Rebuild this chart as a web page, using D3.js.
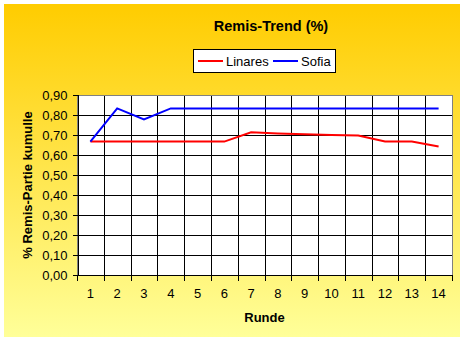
<!DOCTYPE html>
<html><head><meta charset="utf-8">
<script src="https://cdn.jsdelivr.net/npm/d3@7/dist/d3.min.js"></script>
<style>html,body{margin:0;padding:0;background:#fff;}svg{display:block;}</style>
</head><body>
<script>
const rounds = [1,2,3,4,5,6,7,8,9,10,11,12,13,14];
const linares = [0.667,0.667,0.667,0.667,0.667,0.667,0.714,0.708,0.704,0.700,0.697,0.667,0.667,0.643];
const sofia = [0.667,0.833,0.778,0.833,0.833,0.833,0.833,0.833,0.833,0.833,0.833,0.833,0.833,0.833];
const yTicks = [0,0.1,0.2,0.3,0.4,0.5,0.6,0.7,0.8,0.9];
const seriesNames = ["Linares","Sofia"];
const seriesColors = ["#ff0000","#0000ff"];

const W = 467, H = 345;
const svg = d3.select("body").append("svg").attr("width",W).attr("height",H);
const defs = svg.append("defs");
const grad = defs.append("linearGradient").attr("id","bg").attr("x1",0).attr("y1",0).attr("x2",0).attr("y2",1);
grad.append("stop").attr("offset","0%").attr("stop-color","#ffcc00");
grad.append("stop").attr("offset","100%").attr("stop-color","#ffff99");
svg.append("rect").attr("x",4).attr("y",4).attr("width",456).attr("height",333).attr("fill","url(#bg)");

const L=77, R=452, T=95, B=275;
const x = d3.scaleBand().domain(rounds).range([L,R]);
const y = d3.scaleLinear().domain([0,0.9]).range([B,T]);
const font = "'Liberation Sans', Arial, sans-serif";

svg.append("rect").attr("x",L).attr("y",T).attr("width",R-L).attr("height",B-T).attr("fill","#fff");

// gridlines
const g = svg.append("g").attr("shape-rendering","crispEdges");
g.selectAll(".hg").data(yTicks.slice(1)).enter().append("line")
  .attr("x1",L).attr("x2",R).attr("y1",d=>Math.round(y(d))+0.5).attr("y2",d=>Math.round(y(d))+0.5)
  .attr("stroke","#000");
g.selectAll(".vg").data(rounds.slice(1)).enter().append("line")
  .attr("x1",d=>Math.round(x(d))+0.5).attr("x2",d=>Math.round(x(d))+0.5).attr("y1",T).attr("y2",B)
  .attr("stroke","#000");
// plot border gray
svg.append("rect").attr("x",L+0.5).attr("y",T+0.5).attr("width",R-L).attr("height",B-T)
  .attr("fill","none").attr("stroke","#808080").attr("shape-rendering","crispEdges");

// axes
const yAxis = d3.axisLeft(y).tickValues(yTicks).tickSize(5).tickPadding(5)
  .tickFormat(d=>d3.format(".2f")(d).replace(".",","));
const ya = svg.append("g").attr("transform",`translate(${L+0.5},0)`).call(yAxis);
const xAxis = d3.axisBottom(x).tickSize(0).tickPadding(13);
const xa = svg.append("g").attr("transform",`translate(0,${B+0.5})`).call(xAxis);
// x ticks at category boundaries
const bounds = rounds.map(r=>x(r)).concat([R]);
xa.selectAll(".bt").data(bounds).enter().append("line")
  .attr("x1",d=>Math.round(d)+0.5).attr("x2",d=>Math.round(d)+0.5).attr("y1",0).attr("y2",5)
  .attr("stroke","#000").attr("shape-rendering","crispEdges");
[ya,xa].forEach(a=>{
  a.selectAll("path.domain").attr("stroke","#000").attr("shape-rendering","crispEdges");
  a.selectAll(".tick line").attr("stroke","#000").attr("shape-rendering","crispEdges");
  a.selectAll("text").attr("font-family",font).attr("font-size","13px").attr("fill","#000");
});
xa.select("path.domain").remove();
xa.append("line").attr("x1",L).attr("x2",R+0.5).attr("y1",0).attr("y2",0).attr("stroke","#000").attr("shape-rendering","crispEdges");

// lines
const line = d3.line().x((d,i)=>x(rounds[i])+x.bandwidth()/2).y(d=>y(d));
[linares,sofia].forEach((s,i)=>{
  svg.append("path").datum(s).attr("d",line).attr("fill","none")
    .attr("stroke",seriesColors[i]).attr("stroke-width",2);
});

// title
svg.append("text").attr("x",271).attr("y",31).attr("text-anchor","middle")
  .attr("font-family",font).attr("font-weight","bold").attr("font-size","14.5px").text("Remis-Trend (%)");
svg.append("text").attr("x",264.5).attr("y",322).attr("text-anchor","middle")
  .attr("font-family",font).attr("font-weight","bold").attr("font-size","13px").text("Runde");
svg.append("text").attr("transform","translate(32,185) rotate(-90)").attr("text-anchor","middle")
  .attr("font-family",font).attr("font-weight","bold").attr("font-size","13px").text("% Remis-Partie kumulle");

// legend
const lg = svg.append("g");
lg.append("rect").attr("x",193.5).attr("y",49.5).attr("width",142).attr("height",23)
  .attr("fill","#fff").attr("stroke","#000").attr("shape-rendering","crispEdges");
const lx = [198,273];
seriesNames.forEach((n,i)=>{
  lg.append("line").attr("x1",lx[i]).attr("x2",lx[i]+25).attr("y1",61).attr("y2",61)
    .attr("stroke",seriesColors[i]).attr("stroke-width",2);
  lg.append("text").attr("x",lx[i]+28).attr("y",66).attr("font-family",font).attr("font-size","13px").text(n);
});
</script>
</body></html>
